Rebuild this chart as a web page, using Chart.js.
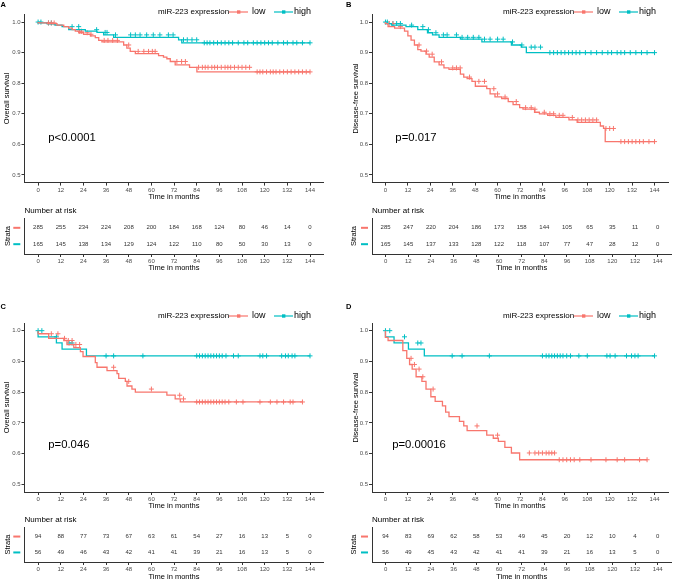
<!DOCTYPE html>
<html>
<head>
<meta charset="utf-8">
<script src="https://cdn.jsdelivr.net/npm/chart.js@4.4.1/dist/chart.umd.min.js"></script>
<style>
  html, body { margin: 0; padding: 0; background: #fff; }
  #wrap { position: relative; width: 673px; height: 580px; overflow: hidden; background: #fff; }
  canvas { position: absolute; }
</style>
</head>
<body>
<div id="wrap">
  <canvas id="kmA" width="336" height="205" style="left:0px;top:0px"></canvas>
  <canvas id="riskA" width="336" height="72" style="left:0px;top:203px"></canvas>
  <canvas id="kmB" width="337" height="205" style="left:336px;top:0px"></canvas>
  <canvas id="riskB" width="337" height="72" style="left:336px;top:203px"></canvas>
  <canvas id="kmC" width="336" height="224" style="left:0px;top:290px"></canvas>
  <canvas id="riskC" width="336" height="72" style="left:0px;top:510px"></canvas>
  <canvas id="kmD" width="337" height="224" style="left:336px;top:290px"></canvas>
  <canvas id="riskD" width="337" height="72" style="left:336px;top:510px"></canvas>
</div>
<script>
// ---- data ----
const timeTicks = [0, 12, 24, 36, 48, 60, 72, 84, 96, 108, 120, 132, 144];
const survTicks = [0.5, 0.6, 0.7, 0.8, 0.9, 1.0];
const groupNames = ['low', 'high'];
const legendTitle = 'miR-223 expression';

// A - overall survival, whole cohort
const aLowTime = [5, 10, 13.6, 16.2, 18, 19.7, 21.5, 24.1, 27.7, 30.3, 32.1, 33.8, 45.3, 47, 48.8, 51.5, 63.8, 66.4, 68.2, 70, 72.6, 80.2, 84.1, 114.9];
const aLowSurv = [0.997, 0.995, 0.99, 0.985, 0.98, 0.975, 0.97, 0.965, 0.96, 0.955, 0.949, 0.94, 0.935, 0.925, 0.915, 0.904, 0.897, 0.89, 0.885, 0.88, 0.871, 0.86, 0.852, 0.837];
const aLowCens = [5.5, 7, 8.5, 22, 23, 26, 28, 35, 37, 39.5, 42, 48, 53, 56, 58.5, 60.5, 62, 73.5, 76, 78, 85, 87, 88.5, 90, 92, 93.5, 95, 97, 99, 100.5, 102, 104, 106, 108, 110, 112, 116, 117.5, 119, 121, 123, 124.5, 126, 128, 130, 132, 134, 136, 138, 140, 142, 144];
const aHighTime = [4.8, 9, 12.7, 16.2, 25, 31.2, 34.7, 40, 74.4, 76.1, 85.8];
const aHighSurv = [0.997, 0.994, 0.99, 0.985, 0.975, 0.97, 0.966, 0.958, 0.95, 0.942, 0.932];
const aHighCens = [0, 1.5, 5.5, 7, 18, 21.5, 31, 35.5, 36.5, 41, 49, 51.5, 54, 57.5, 61, 64.5, 69, 71.5, 77, 79, 81.5, 84, 88, 89.5, 91, 93, 95, 97, 99, 101, 103, 106, 109, 111, 114, 116, 118, 120, 122, 124, 127, 130, 132, 135, 137, 140, 144];
const aRiskLow = [285, 255, 234, 224, 208, 200, 184, 168, 124, 80, 46, 14, 0];
const aRiskHigh = [165, 145, 138, 134, 129, 124, 122, 110, 80, 50, 30, 13, 0];

// B - disease-free survival, whole cohort
const bLowTime = [1.4, 4.9, 10.2, 12, 13.7, 15.5, 17.3, 19, 21.7, 23.4, 26.1, 28.7, 31.3, 34, 40.1, 41.9, 43.7, 46.3, 48.1, 54.2, 56, 58.6, 62.2, 65.7, 68.3, 71.8, 73.6, 79.8, 82.4, 86.8, 91.2, 98.2, 102.6, 115, 116.7, 117.6, 124.6];
const bLowSurv = [0.995, 0.985, 0.98, 0.97, 0.955, 0.941, 0.925, 0.91, 0.905, 0.895, 0.885, 0.87, 0.86, 0.85, 0.845, 0.83, 0.82, 0.815, 0.806, 0.79, 0.782, 0.765, 0.755, 0.75, 0.74, 0.73, 0.72, 0.715, 0.705, 0.7, 0.695, 0.688, 0.68, 0.672, 0.66, 0.652, 0.609];
const bLowCens = [2, 4, 8, 18, 22, 25, 30, 36, 38, 40, 45, 50, 53, 58, 60, 64, 70, 75, 78, 80, 85, 88, 90, 93, 95, 100, 103, 105, 107, 109, 111, 113, 118, 120, 122, 126, 128, 130, 132, 134, 136, 138, 141, 144];
const bHighTime = [3.2, 11, 17.3, 22.5, 25.2, 28.7, 40.1, 51.6, 67.4, 72.7, 75.4, 86.8];
const bHighSurv = [0.995, 0.99, 0.985, 0.975, 0.965, 0.958, 0.95, 0.944, 0.935, 0.925, 0.918, 0.9];
const bHighCens = [0, 1, 4, 6, 8, 14, 20, 23, 27, 31, 33, 38, 41, 44, 47, 50, 53, 56, 60, 63, 68, 73, 78, 80, 83, 88, 90, 92, 94, 96, 98, 100, 102, 104, 107, 110, 113, 116, 119, 121, 124, 126, 128, 131, 134, 137, 140, 144];
const bRiskLow = [285, 247, 220, 204, 186, 173, 158, 144, 105, 65, 35, 11, 0];
const bRiskHigh = [165, 145, 137, 133, 128, 122, 118, 107, 77, 47, 28, 12, 0];

// C - overall survival, subgroup
const cLowTime = [5.6, 13.6, 15.3, 18.9, 22.4, 23.8, 30.3, 31.2, 36.5, 41.8, 42.7, 46.2, 47.1, 49.7, 51.5, 68.2, 72.6, 75.3, 78.8];
const cLowSurv = [0.99, 0.975, 0.968, 0.955, 0.945, 0.932, 0.916, 0.896, 0.881, 0.87, 0.86, 0.845, 0.835, 0.82, 0.81, 0.8, 0.79, 0.778, 0.768];
const cLowCens = [7, 10.5, 14, 16, 18, 20, 22, 40, 48, 60, 75, 77, 84, 85.5, 87, 88.5, 90, 91.5, 93, 94.5, 96, 97.5, 99, 101, 105, 108.5, 117.5, 123, 126.5, 130, 133.5, 135, 140];
const cHighTime = [9.7, 12.7, 25.6, 33.3];
const cHighSurv = [0.98, 0.96, 0.94, 0.918];
const cHighCens = [0, 2, 9.7, 16.4, 18, 36, 40, 55.5, 84, 85.5, 87, 88.5, 90, 91.5, 93, 94.5, 96, 97.5, 99.5, 103.5, 106, 117.5, 119, 121, 129, 131, 132.5, 134.5, 136, 144];
const cRiskLow = [94, 88, 77, 73, 67, 63, 61, 54, 27, 16, 13, 5, 0];
const cRiskHigh = [56, 49, 46, 43, 42, 41, 41, 39, 21, 16, 13, 5, 0];

// D - disease-free survival, subgroup
const dLowTime = [1.4, 9.3, 11.4, 12.9, 14.3, 16.4, 19.5, 21.7, 24.3, 26.6, 30.5, 32.2, 34, 39.6, 41.9, 43.7, 54.2, 57.7, 60.4, 63.9, 67.4, 71.8, 91.2];
const dLowSurv = [0.978, 0.968, 0.935, 0.91, 0.89, 0.875, 0.85, 0.835, 0.81, 0.785, 0.77, 0.755, 0.735, 0.72, 0.705, 0.69, 0.675, 0.66, 0.65, 0.64, 0.62, 0.602, 0.58];
const dLowCens = [13.7, 15.5, 18, 20, 25.5, 49, 60, 77, 80, 82, 84, 86, 87.5, 89, 90.5, 93, 95, 97, 99, 101, 104, 110, 118, 124, 128, 136, 140];
const dHighTime = [4.6, 12.3, 20.8, 25.2];
const dHighSurv = [0.98, 0.96, 0.94, 0.918];
const dHighCens = [0, 2.3, 10.2, 17.3, 19, 35.7, 41, 55.6, 84, 86, 87.5, 89, 90.5, 92, 93.5, 95, 97, 99, 103.5, 108, 118.5, 120.2, 122.9, 129, 131.7, 133.5, 135.2, 144];
const dRiskLow = [94, 83, 69, 62, 58, 53, 49, 45, 20, 12, 10, 4, 0];
const dRiskHigh = [56, 49, 45, 43, 42, 41, 41, 39, 21, 16, 13, 5, 0];

// ---- styling ----
const F = '"Liberation Sans", Arial, Helvetica, sans-serif';
const COLORS = ['#F8766D', '#00BFC4'];
Chart.defaults.font.family = F;

// value of the step curve at time t
function survAt(times, surv, t) {
  let s = 1;
  for (let i = 0; i < times.length; i++) {
    if (times[i] <= t) s = surv[i];
  }
  return s;
}

function kmSteps(times, surv, cens) {
  const pts = [{ x: 0, y: 1 }];
  times.forEach((t, i) => pts.push({ x: t, y: surv[i] }));
  const end = Math.max(times[times.length - 1], ...cens);
  pts.push({ x: end, y: surv[surv.length - 1] });
  return pts;
}

// letters, legend, p-value, risk table text
const decor = {
  id: 'decor',
  afterDraw(chart, args, o) {
    const ctx = chart.ctx;
    ctx.save();
    ctx.textBaseline = 'middle';
    ctx.textAlign = 'left';
    ctx.fillStyle = '#000';
    if (o.letter) {
      ctx.font = 'bold 7.5px ' + F;
      ctx.fillText(o.letter, o.letterX, o.letterY);
    }
    if (o.legendX != null) {
      const x0 = o.legendX, y = o.legendY;
      ctx.font = '8px ' + F;
      ctx.fillText(legendTitle, x0, y);
      const keys = [[71, 94], [116, 136]];
      groupNames.forEach((g, i) => {
        const [kx, tx] = keys[i];
        ctx.strokeStyle = COLORS[i];
        ctx.lineWidth = 1.2;
        ctx.beginPath();
        ctx.moveTo(x0 + kx, y);
        ctx.lineTo(x0 + kx + 19, y);
        ctx.stroke();
        ctx.fillStyle = COLORS[i];
        ctx.fillRect(x0 + kx + 8, y - 1.7, 3.4, 3.4);
        ctx.fillStyle = '#000';
        ctx.font = '9px ' + F;
        ctx.fillText(g, x0 + tx, y);
      });
    }
    if (o.pval) {
      ctx.font = '11.3px ' + F;
      ctx.fillStyle = '#000';
      const px = chart.scales.x.getPixelForValue(o.pvalAt[0]);
      const py = chart.scales.y.getPixelForValue(o.pvalAt[1]);
      ctx.fillText(o.pval, px, py);
    }
    if (o.risk) {
      ctx.font = '8px ' + F;
      ctx.fillStyle = '#000';
      ctx.fillText('Number at risk', o.titleX, o.titleY);
      chart.data.datasets.forEach((ds, i) => {
        const meta = chart.getDatasetMeta(i);
        ctx.fillStyle = ds.borderColor;
        ctx.fillRect(o.dashX, meta.data[0].y - 1, 7, 2);
        ctx.fillStyle = '#333';
        ctx.font = '6px ' + F;
        ctx.textAlign = 'center';
        meta.data.forEach((el, j) => ctx.fillText(String(ds.data[j].n), el.x, el.y));
        ctx.textAlign = 'left';
      });
    }
    ctx.restore();
  }
};

function xScale(p) {
  return {
    type: 'linear', min: -7.2, max: 151.2,
    afterBuildTicks: s => { s.ticks = timeTicks.map(v => ({ value: v })); },
    afterFit: s => { s.height = p.xH; },
    ticks: { font: { size: 6 }, color: '#4d4d4d', padding: 1, maxRotation: 0, autoSkip: false },
    grid: { drawOnChartArea: false, tickLength: 3, color: '#333' },
    border: { color: '#333', width: 1 },
    title: { display: true, text: 'Time in months', font: { size: 7.5 }, color: '#000', padding: { top: 0, bottom: p.xTitlePad } }
  };
}

function kmChart(id, p) {
  const datasets = [];
  p.groups.forEach((g, i) => {
    datasets.push({
      type: 'line', label: groupNames[i], data: kmSteps(g.time, g.surv, g.cens),
      stepped: 'after', borderColor: COLORS[i], borderWidth: 1.3, pointRadius: 0, fill: false
    });
  });
  p.groups.forEach((g, i) => {
    datasets.push({
      type: 'scatter', label: groupNames[i] + ' censored',
      data: g.cens.map(t => ({ x: t, y: survAt(g.time, g.surv, t) })),
      pointStyle: 'cross', pointRadius: 2.5, borderColor: COLORS[i], borderWidth: 1, showLine: false
    });
  });
  new Chart(document.getElementById(id), {
    type: 'scatter',
    data: { datasets },
    plugins: [decor],
    options: {
      responsive: false, animation: false, devicePixelRatio: 1, events: [],
      layout: { padding: { left: 0, top: p.top, right: p.right, bottom: 0 } },
      plugins: {
        legend: { display: false }, tooltip: { enabled: false },
        decor: { letter: p.letter, letterX: p.letterX, letterY: p.letterY, legendX: p.legendX, legendY: p.legendY, pval: p.pval, pvalAt: p.pvalAt }
      },
      scales: {
        x: xScale(p),
        y: {
          type: 'linear', min: 0.475, max: 1.025,
          afterBuildTicks: s => { s.ticks = survTicks.map(v => ({ value: v })); },
          afterFit: s => { s.width = p.yW; },
          ticks: { font: { size: 6 }, color: '#4d4d4d', padding: 1, callback: v => v.toFixed(1) },
          grid: { drawOnChartArea: false, tickLength: 3, color: '#333' },
          border: { color: '#333', width: 1 },
          title: { display: true, text: p.yTitle, font: { size: 7.5 }, color: '#000', padding: { top: p.yTitlePad, bottom: 0 } }
        }
      }
    }
  });
}

function riskChart(id, p) {
  const datasets = p.counts.map((c, i) => ({
    label: groupNames[i], borderColor: COLORS[i], pointRadius: 0,
    data: timeTicks.map((t, j) => ({ x: t, y: i + 1, n: c[j] }))
  }));
  new Chart(document.getElementById(id), {
    type: 'scatter',
    data: { datasets },
    plugins: [decor],
    options: {
      responsive: false, animation: false, devicePixelRatio: 1, events: [],
      layout: { padding: { left: 0, top: p.top, right: p.right, bottom: 0 } },
      plugins: {
        legend: { display: false }, tooltip: { enabled: false },
        decor: { risk: true, titleX: p.yW, titleY: p.titleY, dashX: p.dashX }
      },
      scales: {
        x: xScale(p),
        y: {
          type: 'linear', min: 0.4, max: 2.6, reverse: true,
          afterFit: s => { s.width = p.yW; },
          ticks: { display: false },
          grid: { display: false },
          border: { color: '#333', width: 1 },
          title: { display: true, text: 'Strata', font: { size: 7.5 }, color: '#000', padding: { top: p.yTitlePad, bottom: 0 } }
        }
      }
    }
  });
}

kmChart('kmA', {
  groups: [{ time: aLowTime, surv: aLowSurv, cens: aLowCens }, { time: aHighTime, surv: aHighSurv, cens: aHighCens }],
  top: 14.4, right: 12.4, yW: 24.5, xH: 22.4, xTitlePad: 3.5, yTitlePad: 2.2,
  yTitle: 'Overall survival', letter: 'A', letterX: 0.5, letterY: 4.5,
  legendX: 158, legendY: 12, pval: 'p<0.0001', pvalAt: [5.4, 0.621]
});
riskChart('riskA', { counts: [aRiskLow, aRiskHigh], top: 15, right: 12.4, yW: 24.5, xH: 21, xTitlePad: 2.5, yTitlePad: 3.5, titleY: 7.7, dashX: 13.3 });

kmChart('kmB', {
  groups: [{ time: bLowTime, surv: bLowSurv, cens: bLowCens }, { time: bHighTime, surv: bHighSurv, cens: bHighCens }],
  top: 14.4, right: 1.7, yW: 36, xH: 22.4, xTitlePad: 3.5, yTitlePad: 15,
  yTitle: 'Disease-free survival', letter: 'B', letterX: 10, letterY: 4.5,
  legendX: 167, legendY: 12, pval: 'p=0.017', pvalAt: [5.3, 0.621]
});
riskChart('riskB', { counts: [bRiskLow, bRiskHigh], top: 15, right: 1.7, yW: 36, xH: 21, xTitlePad: 2.5, yTitlePad: 13.5, titleY: 7.7, dashX: 25 });

kmChart('kmC', {
  groups: [{ time: cLowTime, surv: cLowSurv, cens: cLowCens }, { time: cHighTime, surv: cHighSurv, cens: cHighCens }],
  top: 33, right: 12.4, yW: 24.5, xH: 22, xTitlePad: 3.5, yTitlePad: 2.2,
  yTitle: 'Overall survival', letter: 'C', letterX: 0.5, letterY: 16.7,
  legendX: 158, legendY: 26, pval: 'p=0.046', pvalAt: [5.4, 0.628]
});
riskChart('riskC', { counts: [cRiskLow, cRiskHigh], top: 17, right: 12.4, yW: 24.5, xH: 20, xTitlePad: 0.5, yTitlePad: 3.5, titleY: 9.3, dashX: 13.3 });

kmChart('kmD', {
  groups: [{ time: dLowTime, surv: dLowSurv, cens: dLowCens }, { time: dHighTime, surv: dHighSurv, cens: dHighCens }],
  top: 33, right: 1.7, yW: 36, xH: 22, xTitlePad: 3.5, yTitlePad: 15,
  yTitle: 'Disease-free survival', letter: 'D', letterX: 10, letterY: 16.7,
  legendX: 167, legendY: 26, pval: 'p=0.00016', pvalAt: [3.6, 0.628]
});
riskChart('riskD', { counts: [dRiskLow, dRiskHigh], top: 17, right: 1.7, yW: 36, xH: 20, xTitlePad: 0.5, yTitlePad: 13.5, titleY: 9.3, dashX: 25 });
</script>
</body>
</html>
